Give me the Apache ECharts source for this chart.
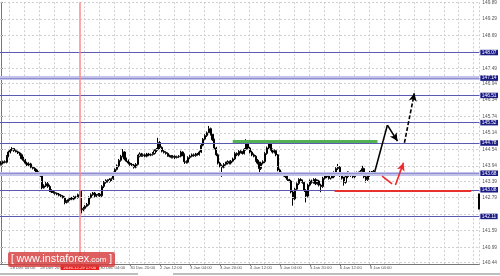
<!DOCTYPE html>
<html><head><meta charset="utf-8">
<script src="https://cdn.jsdelivr.net/npm/echarts@6/dist/echarts.min.js"></script>
<style>html,body{margin:0;padding:0;background:#fff}#c{width:500px;height:276px}</style>
</head><body><div id="c"></div>
<script>
// ---- H1 candles (open, close, low, high) ----
const opens = [
144.00,144.05,144.10,144.08,144.30,144.45,144.52,144.58,144.50,144.46,
144.42,144.35,144.22,144.15,144.05,143.98,144.02,143.90,143.86,143.80,
143.70,143.62,143.58,143.15,143.22,143.30,143.20,143.05,143.00,142.98,
142.95,142.92,142.88,142.85,142.80,142.62,142.66,142.72,142.78,142.74,
142.82,142.80,142.90,143.02,142.35,142.40,142.48,142.55,142.80,142.90,
142.96,142.85,142.88,142.92,142.86,143.20,143.35,143.42,143.38,143.45,
143.48,143.70,143.82,143.95,144.15,144.30,144.45,144.20,144.12,144.05,
144.00,143.98,143.90,144.00,144.30,144.38,144.32,144.35,144.30,144.38,
144.34,144.36,144.40,144.50,144.55,144.80,144.62,144.48,144.44,144.40,
144.32,144.30,144.26,144.30,144.25,144.28,144.30,144.45,144.35,144.10,
144.08,144.25,144.30,144.35,144.32,144.38,144.36,144.45,144.70,144.92,
145.05,145.15,145.30,145.10,144.90,144.60,144.35,144.05,143.95,143.90,
144.00,144.05,144.10,144.05,144.12,144.20,144.40,144.35,144.48,144.45,
144.40,144.55,144.75,144.60,144.45,144.35,144.30,144.15,144.05,143.85,
144.05,144.10,144.40,144.60,144.75,144.55,144.45,144.50,144.35,143.80,
143.70,143.62,143.60,143.55,143.45,143.40,143.00,142.75,143.10,143.30,
143.45,143.40,143.35,143.05,142.85,143.25,143.40,143.35,143.45,143.30,
143.40,143.25,143.20,143.50,143.60,143.55,143.50,143.62,143.55,143.70,
143.85,143.90,143.60,143.50,143.35,143.55,143.70,143.60,143.68,143.55,
143.65,143.70,143.62,143.75,143.85,143.55,143.45,143.60,143.72,143.68
];
const closes = [
144.05,144.10,144.08,144.30,144.45,144.52,144.58,144.50,144.46,144.42,
144.35,144.22,144.15,144.05,143.98,144.02,143.90,143.86,143.80,143.70,
143.62,143.58,143.15,143.22,143.30,143.20,143.05,143.00,142.98,142.95,
142.92,142.88,142.85,142.80,142.62,142.66,142.72,142.78,142.74,142.82,
142.80,142.90,143.02,142.35,142.40,142.48,142.55,142.80,142.90,142.96,
142.85,142.88,142.92,142.86,143.20,143.35,143.42,143.38,143.45,143.48,
143.70,143.82,143.95,144.15,144.30,144.45,144.20,144.12,144.05,144.00,
143.98,143.90,144.00,144.30,144.38,144.32,144.35,144.30,144.38,144.34,
144.36,144.40,144.50,144.55,144.80,144.62,144.48,144.44,144.40,144.32,
144.30,144.26,144.30,144.25,144.28,144.30,144.45,144.35,144.10,144.08,
144.25,144.30,144.35,144.32,144.38,144.36,144.45,144.70,144.92,145.05,
145.15,145.30,145.10,144.90,144.60,144.35,144.05,143.95,143.90,144.00,
144.05,144.10,144.05,144.12,144.20,144.40,144.35,144.48,144.45,144.40,
144.55,144.75,144.60,144.45,144.35,144.30,144.15,144.05,143.85,144.05,
144.10,144.40,144.60,144.75,144.55,144.45,144.50,144.35,143.80,143.70,
143.62,143.60,143.55,143.45,143.40,143.00,142.75,143.10,143.30,143.45,
143.40,143.35,143.05,142.85,143.25,143.40,143.35,143.45,143.30,143.40,
143.25,143.20,143.50,143.60,143.55,143.50,143.62,143.55,143.70,143.85,
143.90,143.60,143.50,143.35,143.55,143.70,143.60,143.68,143.55,143.65,
143.70,143.62,143.75,143.85,143.55,143.45,143.60,143.72,143.68,143.75
];
const lows = [
143.96,144.00,144.04,144.04,144.26,144.40,144.48,144.46,144.44,144.38,
144.32,144.18,144.10,144.00,143.94,143.94,143.86,143.82,143.76,143.66,
143.58,143.55,143.10,143.12,143.18,143.15,143.00,142.96,142.94,142.90,
142.88,142.84,142.80,142.76,142.55,142.58,142.62,142.68,142.70,142.70,
142.76,142.76,142.86,142.22,142.30,142.36,142.44,142.50,142.76,142.86,
142.80,142.80,142.84,142.82,142.82,143.14,143.30,143.34,143.34,143.40,
143.44,143.66,143.78,143.90,144.10,144.26,144.15,144.08,144.00,143.95,
143.94,143.85,143.86,143.96,144.26,144.28,144.28,144.26,144.26,144.30,
144.30,144.32,144.36,144.45,144.50,144.56,144.44,144.40,144.36,144.28,
144.26,144.22,144.22,144.20,144.22,144.24,144.26,144.30,144.02,144.03,
144.04,144.20,144.26,144.28,144.28,144.32,144.32,144.42,144.66,144.88,
145.00,145.10,145.05,144.85,144.55,144.30,144.00,143.90,143.55,143.86,
143.96,144.00,144.00,144.00,144.08,144.16,144.30,144.30,144.40,144.36,
144.36,144.50,144.55,144.40,144.30,144.26,144.10,144.00,143.72,143.80,
144.00,144.05,144.35,144.55,144.50,144.40,144.40,144.30,143.75,143.65,
143.58,143.56,143.50,143.40,143.35,142.95,142.50,142.70,143.05,143.25,
143.36,143.30,143.00,142.62,142.80,143.20,143.30,143.30,143.25,143.26,
143.20,142.99,143.15,143.45,143.50,143.45,143.45,143.50,143.50,143.65,
143.80,143.55,143.45,143.23,143.30,143.50,143.55,143.55,143.50,143.50,
143.60,143.58,143.58,143.70,143.50,143.34,143.40,143.55,143.62,143.64
];
const highs = [
144.12,144.14,144.15,144.34,144.50,144.56,144.63,144.60,144.54,144.50,
144.46,144.40,144.28,144.20,144.10,144.08,144.06,143.95,143.90,143.84,
143.75,143.68,143.62,143.28,143.36,143.36,143.26,143.10,143.05,143.02,
142.98,142.96,142.92,142.88,142.84,142.70,142.76,142.82,142.82,142.86,
142.86,142.94,143.08,143.05,142.46,142.52,142.60,142.84,142.95,143.00,
143.00,142.92,142.96,142.96,143.25,143.40,143.46,143.46,143.50,143.52,
143.74,143.86,144.00,144.20,144.35,144.56,144.48,144.25,144.18,144.10,
144.05,144.02,144.05,144.35,144.44,144.42,144.40,144.40,144.42,144.42,
144.40,144.45,144.55,144.60,144.97,144.85,144.66,144.52,144.48,144.44,
144.36,144.34,144.34,144.33,144.32,144.34,144.50,144.48,144.40,144.15,
144.30,144.35,144.40,144.40,144.42,144.42,144.50,144.75,144.96,145.10,
145.20,145.40,145.34,145.14,144.94,144.64,144.40,144.10,144.00,144.05,
144.10,144.15,144.14,144.16,144.25,144.45,144.44,144.52,144.52,144.48,
144.60,144.92,144.80,144.64,144.50,144.40,144.34,144.20,144.10,144.10,
144.15,144.45,144.65,144.86,144.78,144.58,144.55,144.52,144.38,143.85,
143.74,143.66,143.64,143.58,143.48,143.44,143.05,143.15,143.35,143.50,
143.50,143.45,143.40,143.10,143.30,143.45,143.45,143.50,143.50,143.45,
143.44,143.30,143.55,143.65,143.64,143.60,143.66,143.66,143.75,143.90,
144.02,143.94,143.64,143.55,143.60,143.75,143.74,143.72,143.72,143.70,
143.74,143.74,143.80,143.95,143.88,143.60,143.65,143.76,143.76,143.80
];

// ---- axes ----
const slotCount = 256;            // H1 slots shown (incl. empty chart shift)
const firstLabelSlot = 5;
const labelStep = 16;
const gridStep = 8;
const xTickLabels = ['28 Dec 04:00','28 Dec 20:00','29 Dec 12:00','30 Dec 04:00','30 Dec 20:00',
  '2 Jan 12:00','3 Jan 04:00','3 Jan 20:00','4 Jan 12:00','5 Jan 04:00','5 Jan 20:00','6 Jan 12:00','9 Jan 04:00'];
const yMin = 140.38, yMax = 149.90;
const yGridValues = [149.89,149.29,148.69,148.09,147.49,146.94,146.34,145.74,145.14,144.54,143.94,143.39,142.79,142.19,141.59,140.99,140.44];
const yLabelValues = [149.89,149.29,148.69,147.49,146.94,146.34,145.74,145.14,144.54,143.94,143.39,142.79,141.59,140.99,140.44];

// ---- levels & annotations (slot index, price) ----
const thinLevels = [148.07,146.51,145.52,144.78,143.08,142.11];
const wideLevels = [147.14,143.68];
const crossSlot = 42.17;
const crossLabel = '2016.12.29 17:00';
const greenLine = [[123.8,144.85],[201.1,144.85]];
const redLine = [[178.2,143.03],[251.2,143.03]];
const blackPath = [[199.6,143.72],[206.4,145.43],[211.8,144.85]];
const blackDashed = [[215.5,144.79],[220.8,146.59]];
const redStroke = [[203.6,143.58],[208.9,143.29]];
const redArrow = [[210.7,143.25],[215.0,144.06]];
const priceBar = [[255.3,142.94],[255.3,142.36]];

const FONT = 'Liberation Sans';
const cats = Array.from({length: slotCount}, (_, i) => String(i));
const candles = opens.map((o, i) => [o, closes[i], lows[i], highs[i]]);
const isLabelSlot = i => i >= firstLabelSlot && (i - firstLabelSlot) % labelStep === 0 && (i - firstLabelSlot) / labelStep < xTickLabels.length;

function seg(a, b, color, width, type, endSym) {
  return [{coord: a, symbol: 'none', symbolSize: 0, lineStyle: {color, width, type}},
          {coord: b, symbol: endSym || 'none', symbolSize: endSym ? [6, 8] : 0}];
}
const boxLabel = {
  show: true, position: 'end', distance: 1, formatter: p => p.value.toFixed(2),
  color: '#fff', backgroundColor: '#1b1b86', padding: [0.5, 1.5, 0, 1.5],
  fontSize: 4.8, fontFamily: FONT, lineHeight: 5
};

const chart = echarts.init(document.getElementById('c'), null, {renderer: 'canvas'});
chart.setOption({
  animation: false,
  backgroundColor: '#ffffff',
  grid: {left: 0, right: 20, top: 0, bottom: 12, containLabel: false},
  xAxis: [{
    type: 'category', data: cats, boundaryGap: true,
    axisLine: {show: true, lineStyle: {color: '#777', width: 1}},
    axisTick: {show: true, alignWithLabel: true, length: 2, interval: i => isLabelSlot(i), lineStyle: {color: '#777'}},
    axisLabel: {show: true, interval: i => isLabelSlot(i), align: 'left', margin: 2,
      formatter: (v, i) => xTickLabels[(i - firstLabelSlot) / labelStep] || '',
      fontSize: 4.2, fontFamily: FONT, color: '#555'},
    splitLine: {show: true, interval: i => i >= firstLabelSlot && (i - firstLabelSlot) % gridStep === 0,
      lineStyle: {color: '#cfcfcf', width: 1, type: [2, 2]}}
  }, {
    type: 'value', min: -0.5, max: slotCount - 0.5, show: false
  }],
  yAxis: {
    type: 'value', position: 'right', min: yMin, max: yMax, scale: true,
    axisLine: {show: true, lineStyle: {color: '#777', width: 1}},
    axisTick: {show: true, customValues: yLabelValues, length: 2, lineStyle: {color: '#777'}},
    axisLabel: {show: true, customValues: yLabelValues, margin: 3, formatter: v => v.toFixed(2),
      fontSize: 4.8, fontFamily: FONT, color: '#555'},
    splitLine: {show: false}
  },
  series: [{
    type: 'line', xAxisIndex: 1, data: [], z: 1, silent: true,
    markLine: {silent: true, symbol: 'none', animation: false, label: {show: false},
      lineStyle: {color: '#cfcfcf', width: 1, type: [2, 2]},
      data: yGridValues.map(v => ({yAxis: v}))}
  }, {
    type: 'line', xAxisIndex: 1, data: [], z: 2, silent: true,
    markLine: {silent: true, symbol: 'none', animation: false,
      data: [
        ...wideLevels.map(v => ({yAxis: v, lineStyle: {color: '#c4c4ea', width: 4, type: 'solid'}, label: {show: false}})),
        ...wideLevels.map(v => ({yAxis: v, lineStyle: {color: '#8f8fd0', width: 1, type: 'solid'}, label: boxLabel})),
        ...thinLevels.map(v => ({yAxis: v, lineStyle: {color: '#5a5ab0', width: 1.2, type: 'solid'}, label: boxLabel})),
        {xAxis: crossSlot, lineStyle: {color: '#ff8a8a', width: 1.5, type: 'solid'},
          label: {show: true, position: 'start', distance: 0.5, formatter: crossLabel, color: '#fff',
            backgroundColor: '#ee1d1d', padding: [1, 3, 0.5, 3], fontSize: 4.2, fontFamily: FONT}}
      ]}
  }, {
    type: 'candlestick', name: 'USDJPY H1', xAxisIndex: 0, data: candles, z: 3,
    barWidth: 1.6, barMaxWidth: 1.6,
    itemStyle: {color: '#ffffff', color0: '#000000', borderColor: '#000000', borderColor0: '#000000', borderWidth: 1}
  }, {
    type: 'line', xAxisIndex: 1, data: [], z: 4, silent: true,
    markLine: {silent: true, animation: false, label: {show: false},
      data: [
        seg(greenLine[0], greenLine[1], '#52b152', 3, 'solid'),
        seg(redLine[0], redLine[1], '#e8302f', 2, 'solid'),
        seg(blackPath[0], blackPath[1], '#000', 1.6, 'solid'),
        seg(blackPath[1], blackPath[2], '#000', 1.6, 'solid', 'arrow'),
        seg(blackDashed[0], blackDashed[1], '#000', 1.6, [4, 2], 'arrow'),
        seg(redStroke[0], redStroke[1], '#ee2a2a', 1.6, 'solid'),
        seg(redArrow[0], redArrow[1], '#ee2a2a', 1.6, 'solid', 'arrow'),
        seg(priceBar[0], priceBar[1], '#000', 2, 'solid')
      ]}
  }],
  graphic: [
    {type: 'line', shape: {x1: 0, y1: 274, x2: 138, y2: 274}, style: {stroke: '#a9a9a9', lineWidth: 1.5}, silent: true},
    {type: 'line', shape: {x1: 173, y1: 274, x2: 500, y2: 274}, style: {stroke: '#a9a9a9', lineWidth: 1.5}, silent: true},
    {type: 'rect', shape: {x: 8, y: 252, width: 107, height: 15, r: 2}, style: {fill: 'rgba(214,60,60,0.82)'}, z: 100, silent: true},
    {type: 'text', x: 61.5, y: 259.5, z: 101, silent: true,
      style: {text: '{a|[ }{b|www.instaforex}{c|.com}{a| ]}', align: 'center', verticalAlign: 'middle',
        rich: {a: {fill: '#fff', fontSize: 10, fontFamily: FONT},
               b: {fill: '#fff', fontSize: 10.8, fontFamily: FONT},
               c: {fill: '#fff', fontSize: 8, fontFamily: FONT}}}}
  ]
});
</script>
</body></html>
